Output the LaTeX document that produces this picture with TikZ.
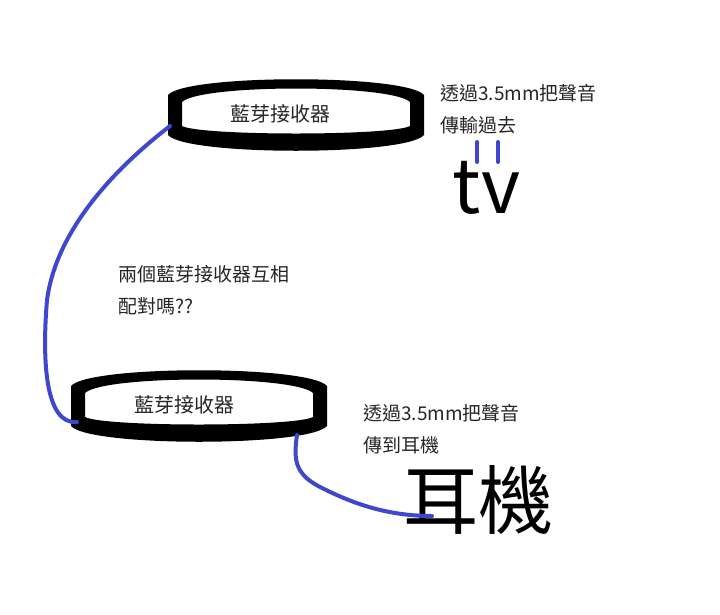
\documentclass[tikz,border=0pt]{standalone}
\usepackage{fontspec}
\setmainfont{Noto Sans CJK TC}
\usepackage{tikz}
\usetikzlibrary{positioning}

\definecolor{paintblue}{RGB}{63,72,204}

\newcommand{\barrel}[1]{%
  \fill[even odd rule, shift = {(#1)}]
    (-128,-19) .. controls (-110,-40) and (110,-40) .. (128,-19) -- (128,21)
    .. controls (110,42) and (-110,42) .. (-128,21) -- cycle
    (-114,-12) .. controls (-95,-30) and (95,-30) .. (114,-12) -- (114,12)
    .. controls (95,22) and (-95,22) .. (-114,12) -- cycle;}

\begin{document}
\begin{tikzpicture}[x = 1pt, y = -1pt,
    every node/.style = { inner sep = 0pt, align = left, text = black!85,
                          font = \fontsize{19}{32}\selectfont },
    receiver/.style = { font = \fontsize{20}{20}\selectfont },
    cable/.style = { draw = paintblue, line width = 4pt, line cap = round },
    bigtext/.style = { text = black, font = \fontsize{75}{75}\selectfont }]
  \useasboundingbox (0,0) rectangle (720,614);

  \node [receiver] (r1) at (283,114) { 藍芽接收器 };
  \node [receiver] (r2) at (187,405) { 藍芽接收器 };
  \barrel{[xshift=13pt]r1.center}
  \barrel{[xshift=12pt]r2.center}

  \node [anchor = west] (tvnote) at (440,109) { 透過3.5mm把聲音 \\ 傳輸過去 };
  \node [anchor = west] (pair) at (118,290) { 兩個藍芽接收器互相 \\ 配對嗎?? };
  \node [anchor = west] (earnote) at (363,429) { 透過3.5mm把聲音 \\ 傳到耳機 };

  \node [bigtext, font = \fontsize{75}{75}\selectfont] (tv) at (495,188) { tv };
  \node [bigtext] (ear) at (487,500) { 耳機 };

  \coordinate (r1 plug) at ([shift = {(-113,12)}]r1.center);
  \coordinate (r2 plug) at ([shift = {(-110,17)}]r2.center);
  \coordinate (r2 out) at ([shift = {(110,30)}]r2.center);
  \coordinate (ear plug) at ([shift = {(-55,16)}]ear.center);

  \draw [cable] (r1 plug) .. controls (100,180) and (55,240) .. (47,300)
    .. controls (42,360) and (45,425) .. (r2 plug);
  \draw [cable] (r2 out) .. controls (293,462) and (296,475) .. (322,488)
    .. controls (350,502) and (385,516) .. (ear plug);

  \draw [cable] ([shift = {(-18,-46)}]tv.center) -- ([shift = {(-18,-26)}]tv.center);
  \draw [cable] ([shift = {(3,-46)}]tv.center) -- ([shift = {(3,-26)}]tv.center);
\end{tikzpicture}
\end{document}
